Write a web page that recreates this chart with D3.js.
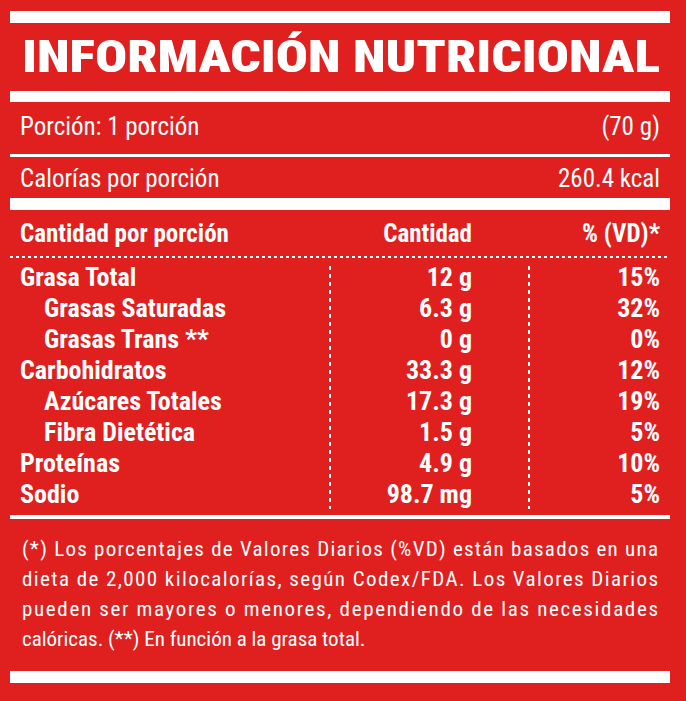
<!DOCTYPE html>
<html><head><meta charset="utf-8">
<script src="https://cdn.jsdelivr.net/npm/d3@7"></script>
<style>body{margin:0;background:#fff}text{font-family:"Liberation Sans Narrow","Roboto Condensed","Liberation Sans",sans-serif;fill:#fff}</style>
</head><body><div id="label"></div>
<script>
// table values
let nutrients = ["Grasa Total", "Grasas Saturadas", "Grasas Trans **", "Carbohidratos", "Azúcares Totales", "Fibra Dietética", "Proteínas", "Sodio"]
let amounts = ["12 g", "6.3 g", "0 g", "33.3 g", "17.3 g", "1.5 g", "4.9 g", "98.7 mg"]
let vd = ["15%", "32%", "0%", "12%", "19%", "5%", "10%", "5%"]
let indented = [false, true, true, false, true, true, false, false]
let footnote = [
  "(*) Los porcentajes de Valores Diarios (%VD) están basados en una",
  "dieta de 2,000 kilocalorías, según Codex/FDA. Los Valores Diarios",
  "pueden ser mayores o menores, dependiendo de las necesidades",
  "calóricas. (**) En función a la grasa total."
]

let width = 686, height = 701
let left = 10, right = 670

let svg = d3.select('#label').append('svg')
    .attr('width', width).attr('height', height)

svg.append('rect').attr('width', width).attr('height', height).attr('fill', '#e01f1f')

// white bars and lines
let bars = [[11, 12], [91, 11], [154, 3], [198, 12], [515, 4], [671, 12]]
svg.selectAll('.bar').data(bars).join('rect')
    .attr('class', 'bar')
    .attr('x', left).attr('width', right - left)
    .attr('y', d => d[0]).attr('height', d => d[1])
    .attr('fill', '#fff')

svg.append('text')
    .attr('x', 22).attr('y', 72)
    .attr('textLength', 638).attr('lengthAdjust', 'spacingAndGlyphs')
    .attr('font-size', 44).attr('font-weight', 900)
    .text('INFORMACIÓN NUTRICIONAL')

let plain = (x, y, t, anchor, weight) => svg.append('text')
    .attr('x', x).attr('y', y).attr('font-size', 25)
    .attr('text-anchor', anchor || 'start')
    .attr('font-weight', weight || 400).text(t)

plain(20, 135, 'Porción: 1 porción')
plain(660, 135, '(70 g)', 'end')
plain(20, 187, 'Calorías por porción')
plain(660, 187, '260.4 kcal', 'end')
plain(20, 242, 'Cantidad por porción', 'start', 700)
plain(472, 242, 'Cantidad', 'end', 700)
plain(660, 242, '% (VD)*', 'end', 700)

// rows
let y = d3.scalePoint().domain(nutrients).range([286, 503])

svg.append('line').attr('x1', left).attr('x2', right).attr('y1', 257).attr('y2', 257)
    .attr('stroke', '#fff').attr('stroke-width', 2).attr('stroke-dasharray', '3,3')

let x = d3.scaleOrdinal().domain(['amount', 'vd']).range([330, 529])
x.domain().forEach(k => {
  svg.append('line').attr('x1', x(k)).attr('x2', x(k)).attr('y1', 266).attr('y2', 509)
    .attr('stroke', '#fff').attr('stroke-width', 2).attr('stroke-dasharray', '4,4')
})

let row = svg.selectAll('.row').data(nutrients).join('g')
    .attr('class', 'row')
    .attr('transform', d => `translate(0,${y(d)})`)
row.append('text').attr('x', (d, i) => indented[i] ? 44 : 20)
    .attr('font-size', 26).attr('font-weight', 700).text(d => d)
row.append('text').attr('x', 472).attr('text-anchor', 'end')
    .attr('font-size', 26).attr('font-weight', 700).text((d, i) => amounts[i])
row.append('text').attr('x', 660).attr('text-anchor', 'end')
    .attr('font-size', 26).attr('font-weight', 700).text((d, i) => vd[i])

// footnote (justified lines)
svg.selectAll('.note').data(footnote).join('text')
    .attr('class', 'note')
    .attr('x', 22).attr('y', (d, i) => 556 + i * 30)
    .attr('font-size', 21)
    .attr('textLength', (d, i) => i < 3 ? 636 : null)
    .attr('lengthAdjust', 'spacing')
    .text(d => d)
</script></body></html>
